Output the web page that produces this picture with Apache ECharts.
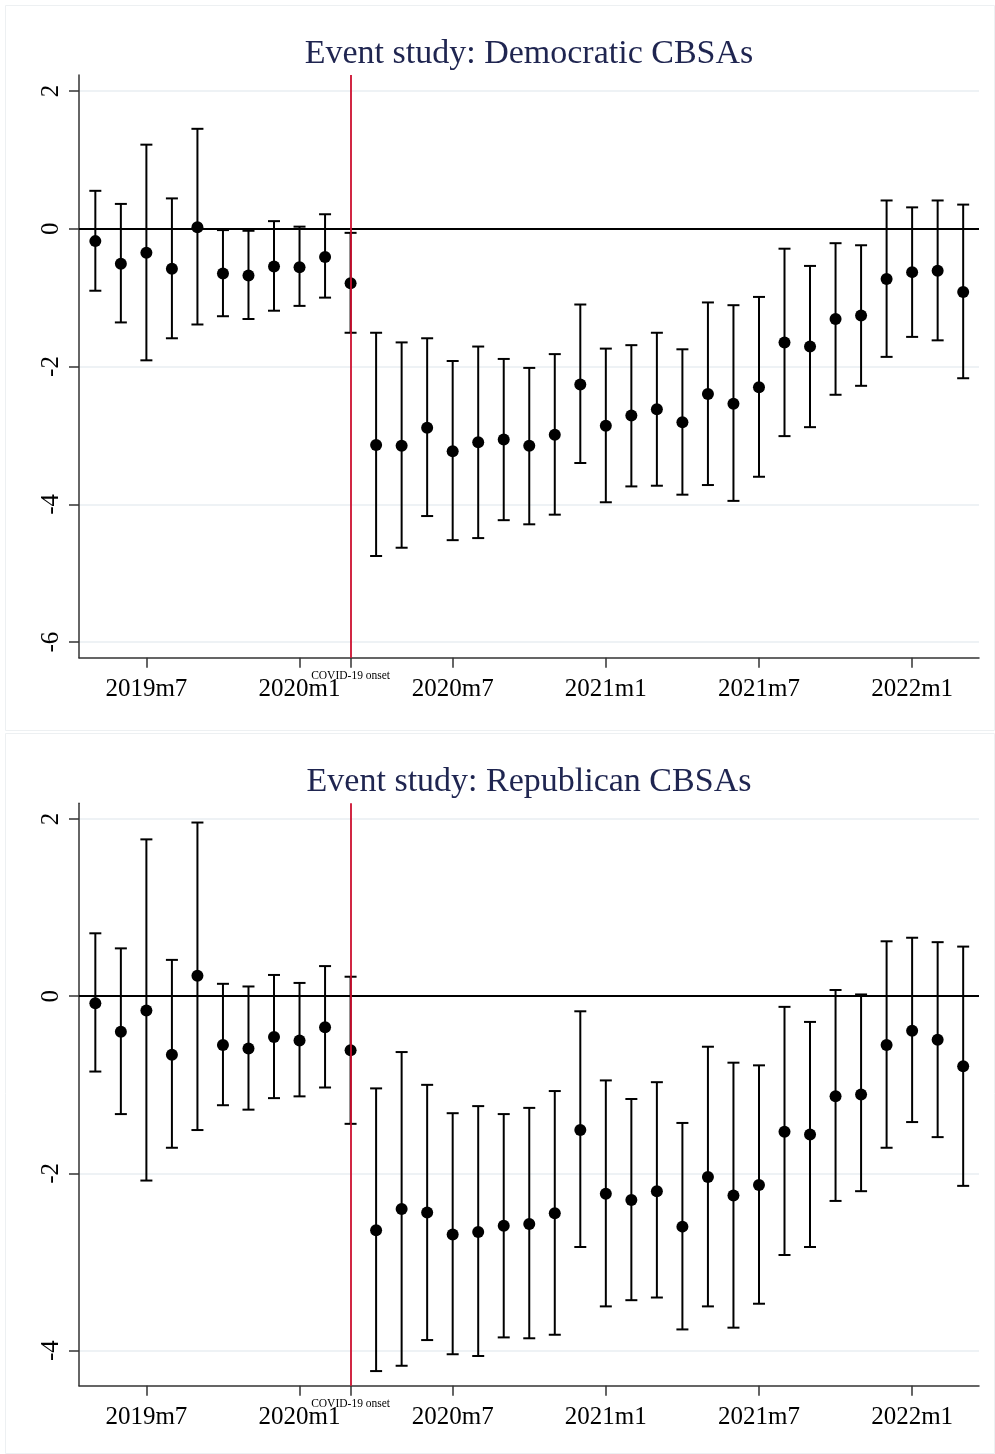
<!DOCTYPE html>
<html>
<head>
<meta charset="utf-8">
<script src="https://cdn.jsdelivr.net/npm/echarts@6/dist/echarts.min.js"></script>
<style>
html,body{margin:0;padding:0;background:#fff;}
#chart{width:995px;height:1454px;}
</style>
</head>
<body>
<div id="chart"></div>
<script>
// ---- data ----
const months = ['2019m5','2019m6','2019m7','2019m8','2019m9','2019m10','2019m11','2019m12',
  '2020m1','2020m2','2020m3','2020m4','2020m5','2020m6','2020m7','2020m8','2020m9','2020m10',
  '2020m11','2020m12','2021m1','2021m2','2021m3','2021m4','2021m5','2021m6','2021m7','2021m8',
  '2021m9','2021m10','2021m11','2021m12','2022m1','2022m2','2022m3'];
const xTickMonths = ['2019m7','2020m1','2020m7','2021m1','2021m7','2022m1'];
const onsetMonth = '2020m3';
const onsetLabel = 'COVID-19 onset';
const titles = ['Event study: Democratic CBSAs', 'Event study: Republican CBSAs'];
const yTicksDem = [-6, -4, -2, 0, 2];
const yTicksRep = [-4, -2, 0, 2];

const demEst = [-0.18,-0.51,-0.35,-0.58,0.02,-0.65,-0.68,-0.55,-0.56,-0.41,-0.79,-3.14,-3.15,-2.89,-3.23,-3.10,-3.06,-3.15,-2.99,-2.26,-2.86,-2.71,-2.62,-2.81,-2.40,-2.54,-2.30,-1.65,-1.71,-1.31,-1.26,-0.73,-0.63,-0.61,-0.92];
const demLo  = [-0.90,-1.36,-1.91,-1.59,-1.39,-1.27,-1.31,-1.19,-1.12,-1.00,-1.51,-4.75,-4.63,-4.17,-4.52,-4.49,-4.23,-4.29,-4.15,-3.40,-3.97,-3.74,-3.73,-3.86,-3.72,-3.95,-3.60,-3.01,-2.88,-2.41,-2.28,-1.86,-1.57,-1.62,-2.17];
const demHi  = [0.55,0.36,1.22,0.44,1.45,-0.02,-0.03,0.11,0.03,0.21,-0.06,-1.51,-1.65,-1.59,-1.92,-1.71,-1.89,-2.02,-1.82,-1.10,-1.74,-1.69,-1.51,-1.75,-1.07,-1.11,-0.99,-0.29,-0.54,-0.21,-0.24,0.41,0.31,0.41,0.35];

const repEst = [-0.08,-0.40,-0.16,-0.66,0.23,-0.55,-0.59,-0.46,-0.50,-0.35,-0.61,-2.64,-2.40,-2.44,-2.69,-2.66,-2.59,-2.57,-2.45,-1.51,-2.23,-2.30,-2.20,-2.60,-2.04,-2.25,-2.13,-1.53,-1.56,-1.13,-1.11,-0.55,-0.39,-0.49,-0.79];
const repLo  = [-0.85,-1.33,-2.08,-1.71,-1.51,-1.23,-1.28,-1.15,-1.13,-1.03,-1.44,-4.23,-4.17,-3.88,-4.04,-4.06,-3.85,-3.86,-3.82,-2.83,-3.50,-3.43,-3.40,-3.76,-3.50,-3.74,-3.47,-2.92,-2.83,-2.31,-2.20,-1.71,-1.42,-1.59,-2.14];
const repHi  = [0.71,0.54,1.77,0.41,1.96,0.14,0.11,0.24,0.15,0.34,0.22,-1.04,-0.63,-1.00,-1.32,-1.24,-1.33,-1.26,-1.07,-0.17,-0.95,-1.16,-0.97,-1.43,-0.57,-0.75,-0.78,-0.12,-0.29,0.07,0.02,0.62,0.66,0.61,0.56];

// ---- build ----
const FONT = "'Liberation Serif','Times New Roman',serif";
const xTickIdx = xTickMonths.map(m => months.indexOf(m));
const onsetIdx = months.indexOf(onsetMonth);
const xTickAll = xTickIdx.concat([onsetIdx]).sort((a,b)=>a-b);

const panels = [
  {est: demEst, lo: demLo, hi: demHi, yTicks: yTicksDem, ymin: -6.226, ymax: 2.231, top: 75, height: 582.7, titleTop: 37},
  {est: repEst, lo: repLo, hi: repHi, yTicks: yTicksRep, ymin: -4.395, ymax: 2.177, top: 803.3, height: 582.4, titleTop: 765}
];

function errRender(params, api) {
  const x = api.value(0), lo = api.value(1), hi = api.value(2);
  const a = api.coord([x, lo]), b = api.coord([x, hi]);
  const cw = 6;
  const st = {stroke: '#000', lineWidth: 2};
  return {type: 'group', children: [
    {type: 'line', shape: {x1: a[0], y1: a[1], x2: b[0], y2: b[1]}, style: st},
    {type: 'line', shape: {x1: a[0]-cw, y1: a[1], x2: a[0]+cw, y2: a[1]}, style: st},
    {type: 'line', shape: {x1: b[0]-cw, y1: b[1], x2: b[0]+cw, y2: b[1]}, style: st}
  ]};
}

const option = {
  backgroundColor: '#fff',
  animation: false,
  title: [], grid: [], xAxis: [], yAxis: [], series: [],
  graphic: [
    {type: 'rect', shape: {x: 5.5, y: 5.5, width: 989, height: 725}, style: {fill: 'none', stroke: '#edf0f2', lineWidth: 1}, silent: true, z: -10},
    {type: 'rect', shape: {x: 5.5, y: 733.5, width: 989, height: 720}, style: {fill: 'none', stroke: '#edf0f2', lineWidth: 1}, silent: true, z: -10}
  ]
};

panels.forEach((p, k) => {
  option.title.push({
    text: titles[k], left: 529, top: p.titleTop, textAlign: 'center', padding: 0,
    textStyle: {fontFamily: FONT, fontSize: 34, fontWeight: 'normal', color: '#1f2550'}
  });
  option.grid.push({left: 79, top: p.top, width: 900, height: p.height, containLabel: false});
  option.xAxis.push({
    type: 'value', gridIndex: k, min: -0.64, max: 34.62,
    axisLine: {show: true, onZero: false, lineStyle: {color: '#333', width: 1.5}},
    axisTick: {show: true, length: 10, customValues: xTickAll, lineStyle: {color: '#333', width: 1.5}},
    axisLabel: {
      customValues: xTickIdx, margin: 19,
      formatter: v => months[Math.round(v)],
      fontFamily: FONT, fontSize: 25, color: '#000'
    },
    splitLine: {show: false}
  });
  option.yAxis.push({
    type: 'value', gridIndex: k, min: p.ymin, max: p.ymax,
    axisLine: {show: true, onZero: false, lineStyle: {color: '#333', width: 1.5}},
    axisTick: {show: true, length: 10, customValues: p.yTicks, lineStyle: {color: '#333', width: 1.5}},
    axisLabel: {
      customValues: p.yTicks, rotate: 90, margin: 15,
      formatter: v => String(Math.round(v)),
      fontFamily: FONT, fontSize: 25, color: '#000'
    },
    splitLine: {show: true, lineStyle: {color: '#e8eef2', width: 1.5}}
  });
  const errData = months.map((m, i) => [i, p.lo[i], p.hi[i]]);
  const ptData = months.map((m, i) => [i, p.est[i]]);
  option.series.push({
    type: 'custom', xAxisIndex: k, yAxisIndex: k, renderItem: errRender,
    encode: {x: 0, y: [1, 2]}, data: errData, z: 3, silent: true
  });
  option.series.push({
    type: 'scatter', xAxisIndex: k, yAxisIndex: k, data: ptData,
    symbol: 'circle', symbolSize: 12, itemStyle: {color: '#000', opacity: 1}, z: 4, silent: true,
    markLine: {
      silent: true, symbol: ['none', 'none'], animation: false,
      data: [
        {yAxis: 0, lineStyle: {color: '#000', width: 2, type: 'solid'}, label: {show: false}},
        {xAxis: onsetIdx, lineStyle: {color: '#cc0f2f', width: 1.8, type: 'solid'},
         label: {show: true, position: 'start', distance: 12, formatter: onsetLabel,
                 fontFamily: FONT, fontSize: 11.5, color: '#000'}}
      ]
    }
  });
});

const chart = echarts.init(document.getElementById('chart'), null, {renderer: 'canvas'});
chart.setOption(option);
</script>
</body>
</html>
